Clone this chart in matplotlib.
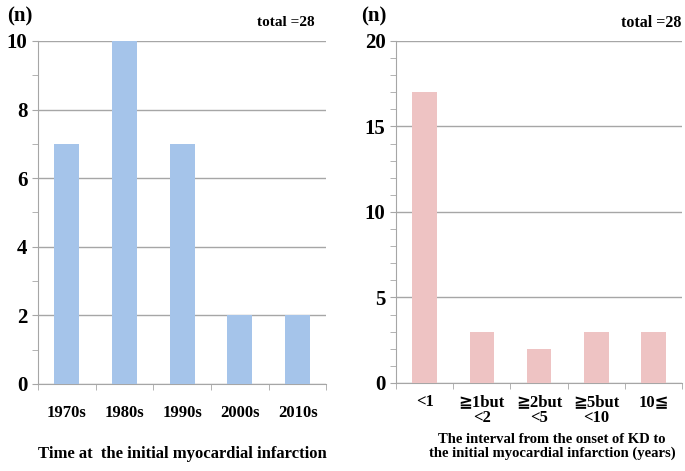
import matplotlib.pyplot as plt
from matplotlib.ticker import MultipleLocator

decades = ["1970s", "1980s", "1990s", "2000s", "2010s"]
decade_counts = [7, 10, 7, 2, 2]

intervals = ["<1", "≧1but\n<2", "≧2but\n<5", "≧5but\n<10", "10≦"]
interval_counts = [17, 3, 2, 3, 3]

FONT = ["Liberation Serif", "DejaVu Sans"]
plt.rcParams["font.family"] = FONT
plt.rcParams["font.weight"] = "bold"

GRAY = "#a6a6a6"

fig = plt.figure(figsize=(6.85, 4.71), dpi=100)
ax1 = fig.add_axes([0.0555, 0.185, 0.421, 0.728])
ax2 = fig.add_axes([0.578, 0.187, 0.418, 0.726])


def style(ax, labels, values, color, ymax, major, pad):
    x = range(len(values))
    ax.bar(x, values, width=0.43, color=color, zorder=3)
    ax.set_xlim(-0.5, len(values) - 0.5)
    ax.set_ylim(0, ymax)
    ax.yaxis.set_major_locator(MultipleLocator(major))
    ax.yaxis.set_minor_locator(MultipleLocator(1))
    ax.grid(axis="y", which="major", color=GRAY, linewidth=1, zorder=0)
    for s in ["top", "right"]:
        ax.spines[s].set_visible(False)
    for s in ["left", "bottom"]:
        ax.spines[s].set_color(GRAY)
    ax.set_xticks([i - 0.5 for i in range(len(values) + 1)], minor=True)
    ax.set_xticks(list(x))
    ax.set_xticklabels(labels, fontsize=12, fontweight="bold",
                       linespacing=1.0)
    ax.tick_params(axis="x", which="major", length=0, pad=pad)
    ax.tick_params(axis="x", which="minor", length=4, color=GRAY)
    ax.tick_params(axis="y", which="both", length=4, color=GRAY,
                   labelsize=15)
    for t in ax.get_yticklabels():
        t.set_fontweight("bold")


style(ax1, decades, decade_counts, "#a5c4ea", 10, 2, 15)
style(ax2, intervals, interval_counts, "#eec3c3", 20, 5, 8)

ax1.set_xlabel("Time at  the initial myocardial infarction",
               fontsize=12, fontweight="bold", labelpad=18)
ax2.set_xlabel("The interval from the onset of KD to\n"
               "the initial myocardial infarction (years)",
               fontsize=10.5, fontweight="bold", labelpad=5, linespacing=1.1)
ax2.xaxis.set_label_coords(0.545, -0.145)

fig.text(0.01, 0.965, "(n)", fontsize=15, fontweight="bold", va="center")
fig.text(0.46, 0.952, "total =28", fontsize=11, fontweight="bold",
         va="center", ha="right")
fig.text(0.527, 0.965, "(n)", fontsize=15, fontweight="bold", va="center")
fig.text(0.995, 0.952, "total =28", fontsize=11.5, fontweight="bold",
         va="center", ha="right")

fig.savefig("out.png", dpi=100)
